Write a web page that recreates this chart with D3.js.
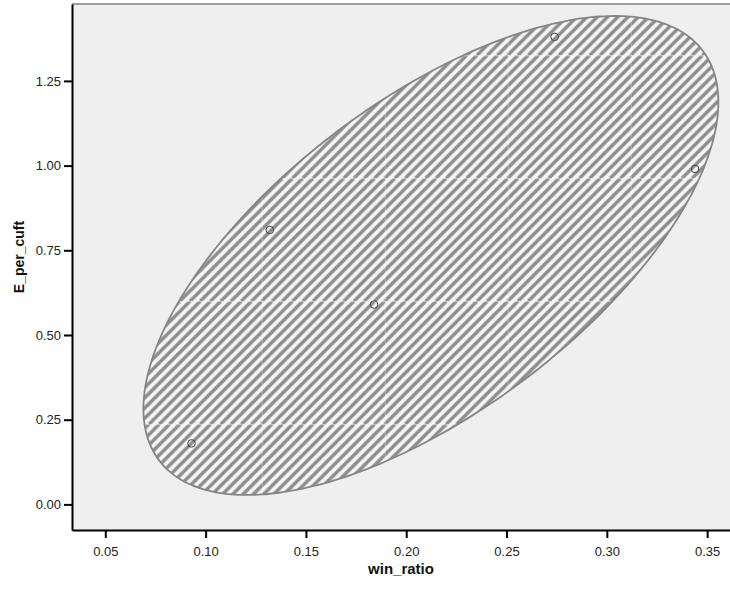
<!DOCTYPE html>
<html>
<head>
<meta charset="utf-8">
<script src="https://cdn.jsdelivr.net/npm/d3@7.9.0/dist/d3.min.js"></script>
<style>
  body { margin: 0; background: #fff; }
  text { font-family: "Liberation Sans", Arial, sans-serif; }
</style>
</head>
<body>
<svg id="chart" width="730" height="590"></svg>
<script>
// data
const winRatio = [0.093, 0.132, 0.184, 0.274, 0.344];
const ePerCuft = [0.18, 0.81, 0.59, 1.38, 0.99];

const xTicks = [0.05, 0.10, 0.15, 0.20, 0.25, 0.30, 0.35];
const yTicks = [0.00, 0.25, 0.50, 0.75, 1.00, 1.25];

// fit ellipse: centre, half extents, correlation
const ellipseCenter = [0.2123, 0.7347];
const ellipseHalf = [0.1433, 0.7069];
const ellipseR = 0.64;

const margin = { top: 4, right: 0, bottom: 60, left: 72 };
const width = 730, height = 590;

const svg = d3.select('#chart');

const x = d3.scaleLinear().domain([0.0334, 0.3614]).range([margin.left, width - margin.right]);
const y = d3.scaleLinear().domain([-0.0756, 1.477]).range([height - margin.bottom, margin.top]);

// hatch pattern, tiled like the original (with faint seams)
const tile = 123;
const defs = svg.append('defs');
const pat = defs.append('pattern')
  .attr('id', 'hatch')
  .attr('patternUnits', 'userSpaceOnUse')
  .attr('x', 261.7 % tile)
  .attr('y', 178.3 % tile)
  .attr('width', tile)
  .attr('height', tile);

pat.append('rect').attr('width', tile).attr('height', tile).attr('fill', '#f7f7f7');
const step = tile / 12;
for (let k = -13; k <= 13; k++) {
  pat.append('line')
    .attr('x1', k * step).attr('y1', tile)
    .attr('x2', k * step + tile).attr('y2', 0)
    .attr('stroke', '#8c8c8c')
    .attr('stroke-width', 3.4);
}
pat.append('line').attr('x1', 0).attr('y1', 0.5).attr('x2', tile).attr('y2', 0.5)
  .attr('stroke', 'rgba(255,255,255,0.3)').attr('stroke-width', 1);
pat.append('line').attr('x1', 0.5).attr('y1', 0).attr('x2', 0.5).attr('y2', tile)
  .attr('stroke', 'rgba(255,255,255,0.3)').attr('stroke-width', 1);

// plot background
svg.append('rect')
  .attr('x', x.range()[0]).attr('y', y.range()[1])
  .attr('width', x.range()[1] - x.range()[0])
  .attr('height', y.range()[0] - y.range()[1])
  .attr('fill', '#efefef');

// top frame line
svg.append('line')
  .attr('x1', x.range()[0]).attr('x2', x.range()[1])
  .attr('y1', y.range()[1]).attr('y2', y.range()[1])
  .attr('stroke', '#808080').attr('stroke-width', 1.5);

// ellipse
const phi = Math.acos(ellipseR);
const ellPts = d3.range(0, 360, 2).map(a => {
  const t = a * Math.PI / 180;
  return [ellipseCenter[0] + ellipseHalf[0] * Math.cos(t),
          ellipseCenter[1] + ellipseHalf[1] * Math.cos(t - phi)];
});
const line = d3.line().x(d => x(d[0])).y(d => y(d[1])).curve(d3.curveCardinalClosed);

svg.append('path')
  .attr('d', line(ellPts))
  .attr('fill', 'url(#hatch)')
  .attr('stroke', '#858585')
  .attr('stroke-width', 1.8);

// points
svg.append('g')
  .selectAll('circle')
  .data(winRatio.map((d, i) => [d, ePerCuft[i]]))
  .join('circle')
  .attr('cx', d => x(d[0]))
  .attr('cy', d => y(d[1]))
  .attr('r', 3.8)
  .attr('fill', 'none')
  .attr('stroke', '#444')
  .attr('stroke-width', 1);

// axes
const xAxis = svg.append('g')
  .attr('transform', `translate(0,${y.range()[0]})`)
  .call(d3.axisBottom(x).tickValues(xTicks).tickFormat(d3.format('.2f')).tickSize(8).tickSizeOuter(0));
const yAxis = svg.append('g')
  .attr('transform', `translate(${x.range()[0]},0)`)
  .call(d3.axisLeft(y).tickValues(yTicks).tickFormat(d3.format('.2f')).tickSize(8).tickSizeOuter(0));

[xAxis, yAxis].forEach(g => {
  g.select('.domain').attr('stroke', '#000').attr('stroke-width', 2);
  g.selectAll('.tick line').attr('stroke', '#000').attr('stroke-width', 2);
  g.selectAll('.tick text')
    .attr('fill', '#222')
    .style('font-family', '"Liberation Sans", Arial, sans-serif')
    .style('font-size', '13px');
});
xAxis.selectAll('.tick text').attr('y', 17);
yAxis.selectAll('.tick text').attr('x', -11);

// axis titles
svg.append('text')
  .attr('x', (x.range()[0] + x.range()[1]) / 2)
  .attr('y', 574)
  .attr('text-anchor', 'middle')
  .style('font-weight', 'bold')
  .style('font-size', '15px')
  .attr('fill', '#111')
  .text('win_ratio');

svg.append('text')
  .attr('transform', `translate(24,${(y.range()[0] + y.range()[1]) / 2 - 10}) rotate(-90)`)
  .attr('text-anchor', 'middle')
  .style('font-weight', 'bold')
  .style('font-size', '14px')
  .attr('fill', '#111')
  .text('E_per_cuft');
</script>
</body>
</html>
